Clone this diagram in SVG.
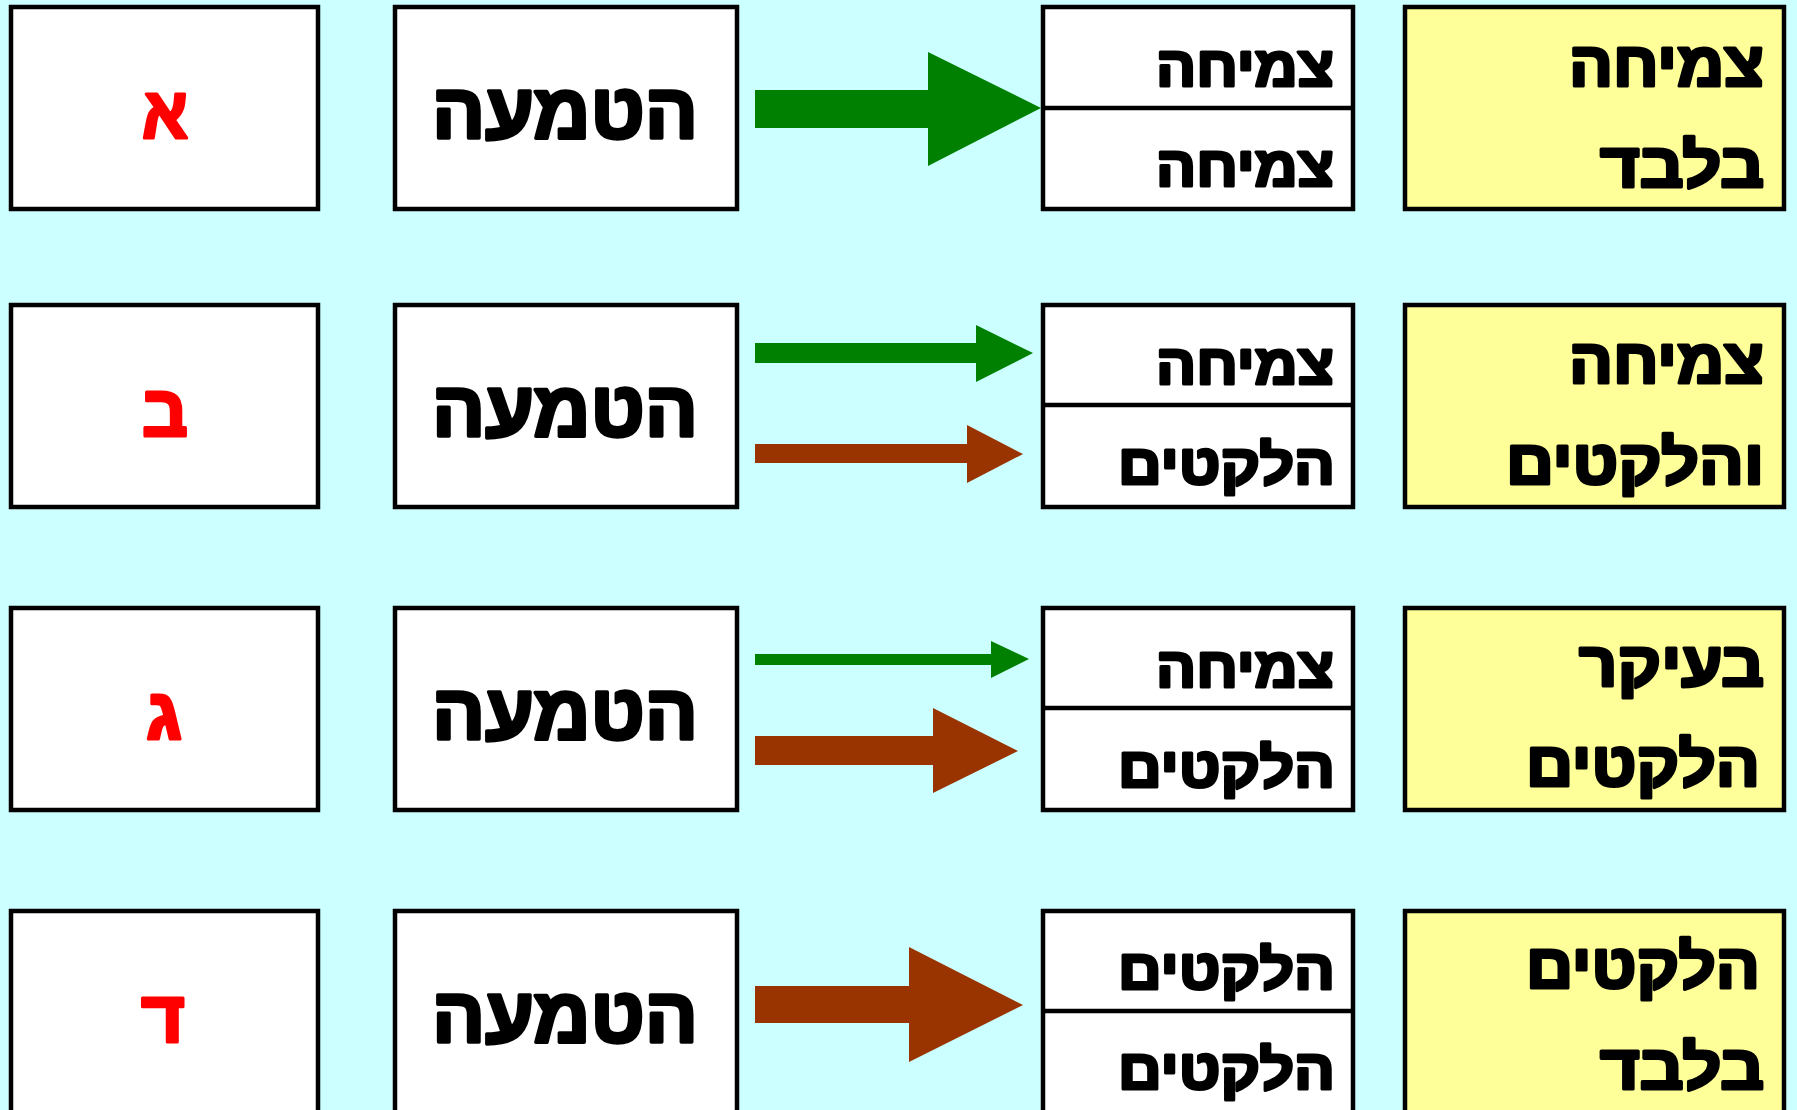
<svg xmlns="http://www.w3.org/2000/svg" width="1797" height="1110" viewBox="0 0 1797 1110">
<style>
.box{fill:#FFFFFF;stroke:#000000;stroke-width:4.5}
.ybox{fill:#FFFF99;stroke:#000000;stroke-width:4.5}
.div{stroke:#000000;stroke-width:4.5}
.t{font-family:"Liberation Sans",sans-serif;font-weight:bold;fill:#000000;stroke:#000000;stroke-linejoin:round}
.letter{font-family:"Liberation Sans",sans-serif;font-weight:bold;fill:#FF0000;stroke:#FF0000;stroke-width:3;stroke-linejoin:round;font-size:73px;text-anchor:middle}
.main{font-size:78px;text-anchor:middle;stroke-width:3.5}
.mid{font-size:56px;text-anchor:end;stroke-width:3}
.yel{font-size:62px;text-anchor:end;stroke-width:3.2}
.g{fill:#008000}
.b{fill:#993300}
</style>
<rect x="0" y="0" width="1797" height="1110" fill="#CCFFFF"/>

<g id="row1">
<g id="label-a"><rect class="box" x="11" y="7" width="307" height="202"/><text class="letter" x="165" y="138" textLength="46" lengthAdjust="spacingAndGlyphs">א</text></g>
<g id="hatmaa-1"><rect class="box" x="395" y="7" width="342" height="202"/><text class="t main" x="565" y="138" textLength="266" lengthAdjust="spacingAndGlyphs">הטמעה</text></g>
<g id="result-1"><rect class="box" x="1043" y="7" width="310" height="202"/><line class="div" x1="1043" y1="108" x2="1353" y2="108"/><text class="t mid" x="1334" y="86" textLength="178" lengthAdjust="spacingAndGlyphs">צמיחה</text><text class="t mid" x="1334" y="186" textLength="178" lengthAdjust="spacingAndGlyphs">צמיחה</text></g>
<g id="summary-1"><rect class="ybox" x="1405" y="7" width="379" height="202"/><text class="t yel" x="1764" y="86" textLength="195" lengthAdjust="spacingAndGlyphs">צמיחה</text><text class="t yel" x="1764" y="187" textLength="164" lengthAdjust="spacingAndGlyphs">בלבד</text></g>
</g>

<g id="row2">
<g id="label-b"><rect class="box" x="11" y="305" width="307" height="202"/><text class="letter" x="165" y="436" textLength="46" lengthAdjust="spacingAndGlyphs">ב</text></g>
<g id="hatmaa-2"><rect class="box" x="395" y="305" width="342" height="202"/><text class="t main" x="565" y="436" textLength="266" lengthAdjust="spacingAndGlyphs">הטמעה</text></g>
<g id="result-2"><rect class="box" x="1043" y="305" width="310" height="202"/><line class="div" x1="1043" y1="405" x2="1353" y2="405"/><text class="t mid" x="1334" y="384" textLength="178" lengthAdjust="spacingAndGlyphs">צמיחה</text><text class="t mid" x="1335" y="484" textLength="217" lengthAdjust="spacingAndGlyphs">הלקטים</text></g>
<g id="summary-2"><rect class="ybox" x="1405" y="305" width="379" height="202"/><text class="t yel" x="1764" y="383" textLength="195" lengthAdjust="spacingAndGlyphs">צמיחה</text><text class="t yel" x="1764" y="484" textLength="258" lengthAdjust="spacingAndGlyphs">והלקטים</text></g>
</g>

<g id="row3">
<g id="label-c"><rect class="box" x="11" y="608" width="307" height="202"/><text class="letter" x="164" y="739" textLength="36" lengthAdjust="spacingAndGlyphs">ג</text></g>
<g id="hatmaa-3"><rect class="box" x="395" y="608" width="342" height="202"/><text class="t main" x="565" y="739" textLength="266" lengthAdjust="spacingAndGlyphs">הטמעה</text></g>
<g id="result-3"><rect class="box" x="1043" y="608" width="310" height="202"/><line class="div" x1="1043" y1="708" x2="1353" y2="708"/><text class="t mid" x="1334" y="687" textLength="178" lengthAdjust="spacingAndGlyphs">צמיחה</text><text class="t mid" x="1335" y="787" textLength="217" lengthAdjust="spacingAndGlyphs">הלקטים</text></g>
<g id="summary-3"><rect class="ybox" x="1405" y="608" width="379" height="202"/><text class="t yel" x="1764" y="686" textLength="185" lengthAdjust="spacingAndGlyphs">בעיקר</text><text class="t yel" x="1760" y="786" textLength="234" lengthAdjust="spacingAndGlyphs">הלקטים</text></g>
</g>

<g id="row4">
<g id="label-d"><rect class="box" x="11" y="911" width="307" height="202"/><text class="letter" x="163" y="1042" textLength="44" lengthAdjust="spacingAndGlyphs">ד</text></g>
<g id="hatmaa-4"><rect class="box" x="395" y="911" width="342" height="202"/><text class="t main" x="565" y="1042" textLength="266" lengthAdjust="spacingAndGlyphs">הטמעה</text></g>
<g id="result-4"><rect class="box" x="1043" y="911" width="310" height="202"/><line class="div" x1="1043" y1="1011" x2="1353" y2="1011"/><text class="t mid" x="1335" y="989" textLength="217" lengthAdjust="spacingAndGlyphs">הלקטים</text><text class="t mid" x="1335" y="1089" textLength="217" lengthAdjust="spacingAndGlyphs">הלקטים</text></g>
<g id="summary-4"><rect class="ybox" x="1405" y="911" width="379" height="202"/><text class="t yel" x="1760" y="988" textLength="234" lengthAdjust="spacingAndGlyphs">הלקטים</text><text class="t yel" x="1764" y="1089" textLength="164" lengthAdjust="spacingAndGlyphs">בלבד</text></g>
</g>

<g id="connectors">
<polygon class="g" points="755,90 928,90 928,52 1041,108 928,166 928,128 755,128"/>
<polygon class="g" points="755,343 976,343 976,325 1033,353 976,382 976,363 755,363"/>
<polygon class="b" points="755,444 967,444 967,425 1023,454 967,483 967,463 755,463"/>
<polygon class="g" points="755,654 991,654 991,641 1029,659 991,678 991,665 755,665"/>
<polygon class="b" points="755,736 933,736 933,708 1018,751 933,793 933,765 755,765"/>
<polygon class="b" points="755,986 909,986 909,947 1023,1005 909,1062 909,1023 755,1023"/>
</g>
</svg>
